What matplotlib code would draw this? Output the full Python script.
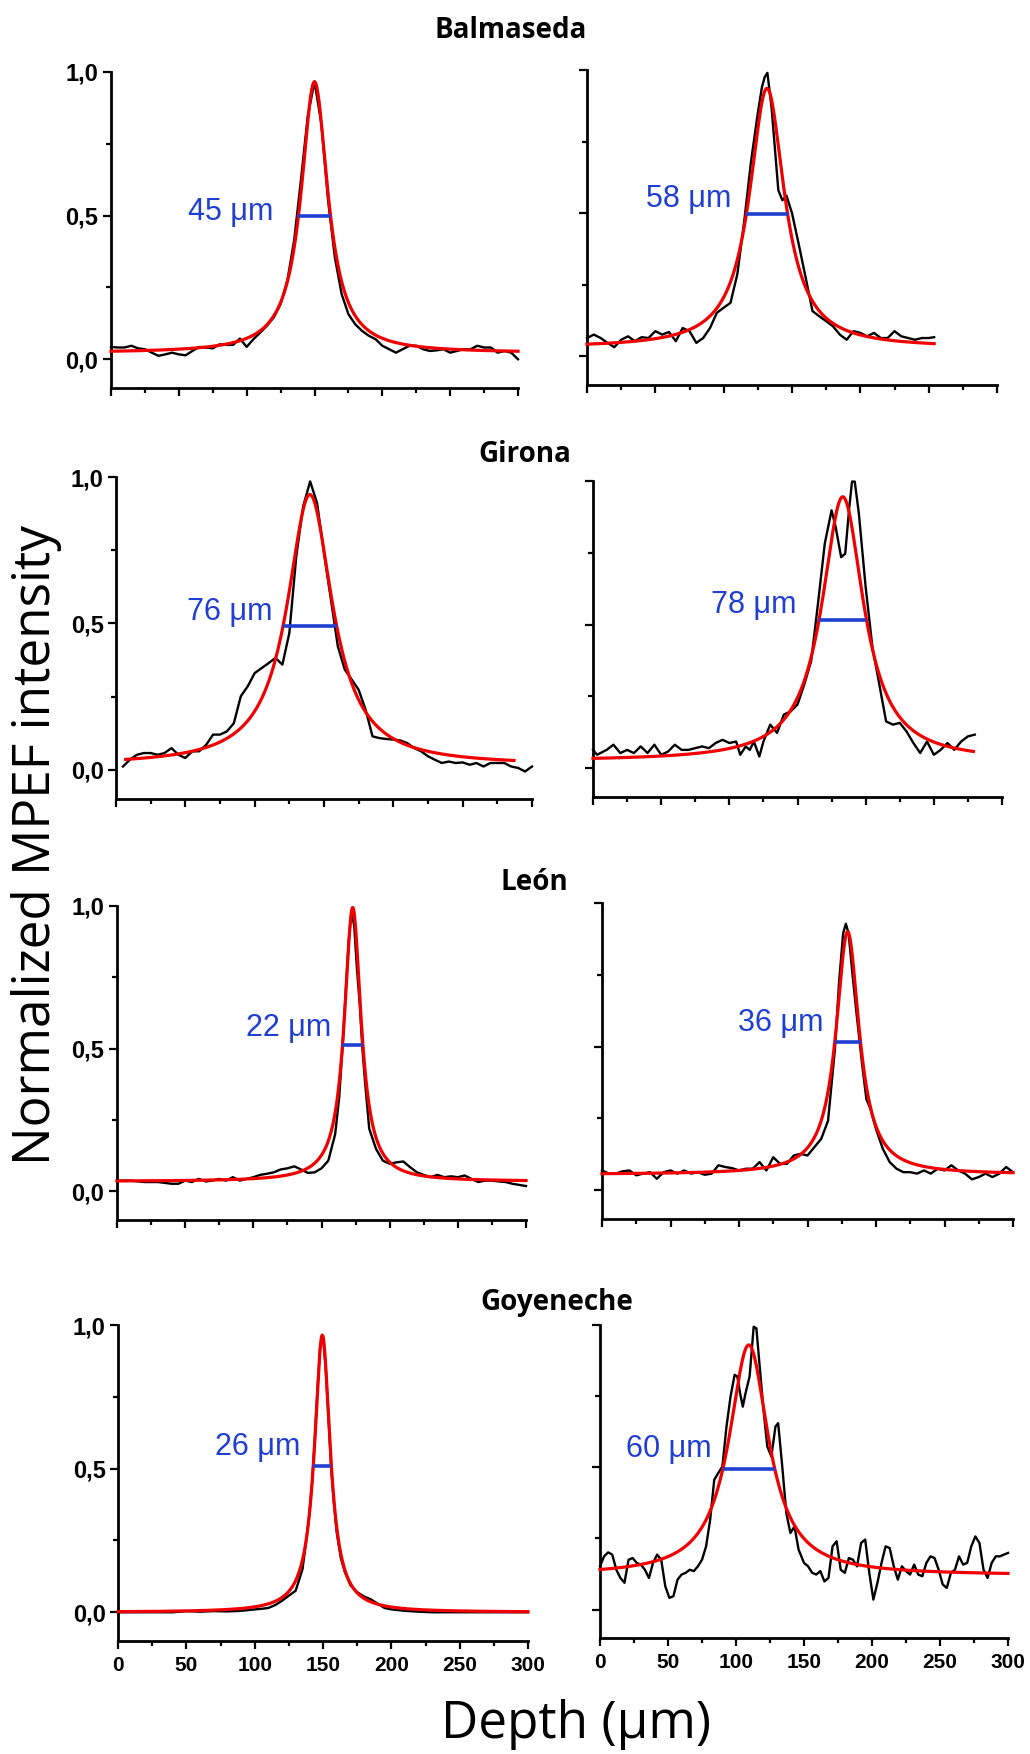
import numpy as np
import matplotlib
matplotlib.use('Agg')
import matplotlib.pyplot as plt
from matplotlib.ticker import FixedLocator

W, H = 1030, 1754

titles = ['Balmaseda', 'Girona', 'León', 'Goyeneche']
fwhm_labels = ['45 μm', '58 μm', '76 μm', '78 μm', '22 μm', '36 μm', '26 μm', '60 μm']

# measured MPEF profiles: depth (µm) and normalized intensity
balm_l_x = list(range(0, 305, 5))
balm_l_y = [0.043, 0.041, 0.041, 0.047, 0.038, 0.035, 0.023, 0.012, 0.017, 0.023,
            0.017, 0.014, 0.029, 0.043, 0.041, 0.038, 0.052, 0.050, 0.050, 0.072,
            0.043, 0.070, 0.093, 0.117, 0.146, 0.192, 0.274, 0.414, 0.624, 0.845,
            0.967, 0.822, 0.554, 0.355, 0.227, 0.157, 0.122, 0.099, 0.082, 0.070,
            0.047, 0.035, 0.023, 0.035, 0.047, 0.047, 0.035, 0.029, 0.031, 0.035,
            0.023, 0.029, 0.035, 0.035, 0.047, 0.041, 0.041, 0.023, 0.029, 0.023, 0.0]

balm_r_x = list(range(0, 115, 5)) + [115, 120, 125, 128, 130, 132, 135, 140, 143, 146,
                                     150, 155, 160, 165] + list(range(170, 255, 5)) + [254]
balm_r_y = [0.064, 0.076, 0.064, 0.047, 0.032, 0.058, 0.070, 0.053, 0.067, 0.064,
            0.088, 0.076, 0.085, 0.053, 0.099, 0.088, 0.047, 0.064, 0.099, 0.152,
            0.170, 0.187, 0.287,
            0.470, 0.680, 0.850, 0.940, 0.975, 0.990, 0.871, 0.580, 0.545, 0.561,
            0.500, 0.390, 0.275, 0.158,
            0.140, 0.123, 0.105, 0.076, 0.058, 0.088, 0.082, 0.070, 0.082, 0.064,
            0.064, 0.088, 0.070, 0.064, 0.058, 0.064, 0.064, 0.067]

gir_l_x = list(range(5, 305, 5))
gir_l_y = [0.011, 0.034, 0.051, 0.057, 0.057, 0.051, 0.057, 0.074, 0.051, 0.040,
           0.063, 0.063, 0.085, 0.120, 0.120, 0.131, 0.159, 0.251, 0.285, 0.330,
           0.347, 0.364, 0.382, 0.359, 0.467, 0.729, 0.900, 0.985, 0.911, 0.740,
           0.581, 0.421, 0.342, 0.308, 0.273, 0.205, 0.114, 0.108, 0.105, 0.103,
           0.100, 0.091, 0.074, 0.063, 0.046, 0.034, 0.023, 0.028, 0.023, 0.025,
           0.017, 0.023, 0.011, 0.023, 0.023, 0.023, 0.011, 0.006, -0.006, 0.011]

gir_r_x = [0, 3] + list(range(10, 110, 5)) + [108, 112, 115, 118, 122, 125] + \
          list(range(130, 180, 5)) + [178, 182, 185, 188, 190, 192, 195] + list(range(200, 285, 5))
gir_r_y = [0.064, 0.047,
           0.064, 0.082, 0.053, 0.064, 0.053, 0.076, 0.053, 0.082, 0.047, 0.058,
           0.082, 0.064, 0.064, 0.070, 0.076, 0.070, 0.088, 0.099, 0.088, 0.093,
           0.047, 0.076, 0.064, 0.093, 0.041, 0.093,
           0.152, 0.123, 0.187, 0.198, 0.222, 0.292, 0.373, 0.572, 0.782, 0.898,
           0.840, 0.735, 0.747, 0.910, 0.998, 0.998, 0.887,
           0.630, 0.420, 0.292, 0.163, 0.152, 0.158, 0.128, 0.088, 0.053, 0.093,
           0.047, 0.064, 0.088, 0.064, 0.093, 0.111, 0.117]

leon_l_x = [0, 10, 20, 30, 40] + list(range(45, 161, 5)) + \
           [163, 166, 168, 170, 172, 174, 176, 178, 180, 182, 185] + list(range(190, 301, 5))
leon_l_y = [0.038, 0.038, 0.033, 0.033, 0.027,
            0.027, 0.038, 0.033, 0.044, 0.035, 0.038, 0.044, 0.038, 0.050, 0.038,
            0.044, 0.050, 0.058, 0.062, 0.067, 0.077, 0.081, 0.088, 0.077, 0.065,
            0.067, 0.081, 0.108, 0.200,
            0.330, 0.550, 0.720, 0.880, 0.980, 0.930, 0.780, 0.660, 0.500, 0.380, 0.220,
            0.149, 0.108, 0.097, 0.102, 0.105, 0.085, 0.067, 0.058, 0.050, 0.058,
            0.050, 0.053, 0.050, 0.056, 0.044, 0.033, 0.038, 0.038, 0.035, 0.033,
            0.027, 0.023, 0.019]

leon_r_x = list(range(0, 170, 5)) + [170, 173, 176, 178, 180, 183, 186, 190, 193, 196] + \
           list(range(200, 305, 5))
leon_r_y = [0.069, 0.058, 0.058, 0.066, 0.069, 0.052, 0.058, 0.063, 0.040, 0.063,
            0.069, 0.058, 0.069, 0.058, 0.063, 0.054, 0.058, 0.087, 0.081, 0.077,
            0.069, 0.075, 0.075, 0.098, 0.069, 0.115, 0.092, 0.092, 0.121, 0.127,
            0.121, 0.150, 0.179, 0.242,
            0.490, 0.721, 0.894, 0.928, 0.894, 0.744, 0.606, 0.433, 0.317, 0.283,
            0.213, 0.144, 0.098, 0.075, 0.063, 0.063, 0.058, 0.069, 0.058, 0.075,
            0.069, 0.087, 0.069, 0.058, 0.038, 0.046, 0.058, 0.046, 0.058, 0.081, 0.063]

goy_l_x = list(range(0, 100, 10)) + list(range(100, 140, 5)) + [138] + list(range(140, 161, 2)) + \
          [163, 166] + list(range(170, 201, 5)) + list(range(210, 301, 10))
goy_l_y = [0.0, 0.0, 0.0, 0.0, 0.0, 0.004, 0.002, 0.004, 0.003, 0.005,
           0.010, 0.012, 0.015, 0.025, 0.040, 0.058, 0.075, 0.150,
           0.260,
           0.340, 0.450, 0.600, 0.780, 0.930, 0.960, 0.850, 0.680, 0.500, 0.380, 0.280,
           0.190, 0.140,
           0.095, 0.070, 0.055, 0.045, 0.030, 0.015, 0.010,
           0.005, 0.002, 0.0, 0.0, 0.0, 0.0, 0.0, 0.0, 0.0, 0.0]

goy_r_x = list(range(0, 99, 3)) + [99, 101, 103, 105, 107, 110, 113, 115, 117, 120,
                                   123, 126, 129, 131, 134, 137, 140, 143, 146, 150] + \
          list(range(153, 301, 3))
goy_r_y = [0.152, 0.187, 0.201, 0.193, 0.140, 0.111, 0.094, 0.175, 0.181, 0.164,
           0.158, 0.140, 0.111, 0.164, 0.193, 0.175, 0.082, 0.041, 0.047, 0.105,
           0.123, 0.129, 0.140, 0.135, 0.152, 0.175, 0.222, 0.316, 0.456, 0.480,
           0.503, 0.643, 0.749,
           0.825, 0.819, 0.760, 0.713, 0.760, 0.819, 0.994, 0.988, 0.877, 0.713,
           0.573, 0.538, 0.643, 0.655, 0.503, 0.339, 0.269, 0.292, 0.211, 0.164,
           0.152, 0.129, 0.123, 0.135, 0.099, 0.111, 0.222, 0.240, 0.140, 0.129,
           0.181, 0.175, 0.152, 0.234, 0.246, 0.129, 0.035, 0.094, 0.164, 0.222,
           0.216, 0.152, 0.105, 0.152, 0.135, 0.123, 0.158, 0.123, 0.117, 0.164,
           0.187, 0.181, 0.140, 0.088, 0.076, 0.129, 0.140, 0.187, 0.158, 0.164,
           0.222, 0.257, 0.234, 0.140, 0.111, 0.164, 0.187, 0.187, 0.193, 0.199]

profiles_x = [balm_l_x, balm_r_x, gir_l_x, gir_r_x, leon_l_x, leon_r_x, goy_l_x, goy_r_x]
profiles_y = [balm_l_y, balm_r_y, gir_l_y, gir_r_y, leon_l_y, leon_r_y, goy_l_y, goy_r_y]

# Lorentzian fit parameters (center, half width, amplitude, offset) and fitted range
fit_center = [150.0, 131.7, 139.8, 183.2, 172.9, 179.3, 149.5, 109.4]
fit_hwhm = [11.95, 15.57, 19.9, 18.65, 7.46, 10.3, 7.0, 17.7]
fit_amp = [0.944, 0.906, 0.925, 0.92, 0.96, 0.845, 0.965, 0.81]
fit_base = [0.022, 0.03, 0.015, 0.025, 0.035, 0.055, 0.0, 0.12]
fit_start = [0, 0, 7, 0, 0, 0, 0, 0]
fit_end = [300, 254, 287, 279, 300, 300, 300, 300]
fwhm_level = [0.50, 0.497, 0.49, 0.517, 0.512, 0.516, 0.509, 0.494]

x_ticks = [0, 50, 100, 150, 200, 250, 300]
y_ticks = [0.0, 0.5, 1.0]
y_ticklabels = ['0,0', '0,5', '1,0']

# layout (pixels): axes boxes left, top, right, bottom
axes_px = [(111, 72, 518, 388), (587, 70, 997, 385),
           (116, 477, 532, 799), (593, 481, 1002, 797),
           (117, 906, 526, 1220), (602, 903, 1013, 1219),
           (118, 1325, 528, 1641), (600, 1325, 1008, 1638)]
label_pos = [(119.7, 0.484), (106, 0.523), (113, 0.513), (149, 0.539),
             (157, 0.544), (161.8, 0.554), (133.7, 0.547), (82.4, 0.536)]
title_pos = [(511, 38), (525, 462), (534, 890), (557, 1310)]

BLUE = '#1f3fd2'
RED = '#f00000'

fig = plt.figure(figsize=(W / 100, H / 100), dpi=100)

for i in range(8):
    l, t, r, b = axes_px[i]
    ax = fig.add_axes([l / W, 1 - b / H, (r - l) / W, (b - t) / H])

    ax.plot(profiles_x[i], profiles_y[i], color='black', lw=1.7, clip_on=False, zorder=2)

    xf = np.linspace(fit_start[i], fit_end[i], 800)
    yf = fit_base[i] + fit_amp[i] / (1 + ((xf - fit_center[i]) / fit_hwhm[i]) ** 2)
    ax.plot(xf, yf, color=RED, lw=2.3, clip_on=False, zorder=3)

    lev = fwhm_level[i]
    d = fit_hwhm[i] * np.sqrt(fit_amp[i] / (lev - fit_base[i]) - 1)
    ax.plot([fit_center[i] - d, fit_center[i] + d], [lev, lev], color=BLUE, lw=2.6,
            solid_capstyle='butt', zorder=4)
    lx, ly = label_pos[i]
    ax.text(lx, ly, fwhm_labels[i], ha='right', va='baseline', color=BLUE,
            fontsize=22, family='Liberation Sans')

    ax.set_xlim(0, 300)
    ax.set_ylim(-0.1, 1.0)
    for s in ['top', 'right']:
        ax.spines[s].set_visible(False)
    for s in ['left', 'bottom']:
        ax.spines[s].set_linewidth(2.0)

    ax.xaxis.set_major_locator(FixedLocator(x_ticks))
    ax.xaxis.set_minor_locator(FixedLocator([25, 75, 125, 175, 225, 275]))
    ax.yaxis.set_major_locator(FixedLocator(y_ticks))
    ax.yaxis.set_minor_locator(FixedLocator([0.25, 0.75]))
    ax.tick_params(which='major', direction='out', length=6, width=1.6)
    ax.tick_params(which='minor', direction='out', length=3.6, width=1.6)
    ax.tick_params(axis='y', pad=3)
    ax.tick_params(axis='x', pad=5)

    if i % 2 == 0:
        ax.set_yticklabels(y_ticklabels, fontsize=17, fontweight='bold',
                           family='Liberation Sans')
    else:
        ax.tick_params(axis='y', labelleft=False)
    if i >= 6:
        ax.set_xticklabels([str(v) for v in x_ticks], fontsize=15,
                           fontweight='bold', family='Liberation Sans')
    else:
        ax.tick_params(axis='x', labelbottom=False)

for name, (cx, by) in zip(titles, title_pos):
    fig.text(cx / W, 1 - by / H, name, ha='center', va='baseline', fontsize=20,
             fontweight='bold', family='Open Sans')

fig.text(37 / W, 1 - 845 / H, 'Normalized MPEF intensity', rotation=90, ha='center',
         va='center', fontsize=37, family='Open Sans')
fig.text(576 / W, 1 - 1738 / H, 'Depth (μm)', ha='center', va='baseline', fontsize=37,
         family='Open Sans')

fig.savefig('out.png', dpi=100, facecolor='white')
